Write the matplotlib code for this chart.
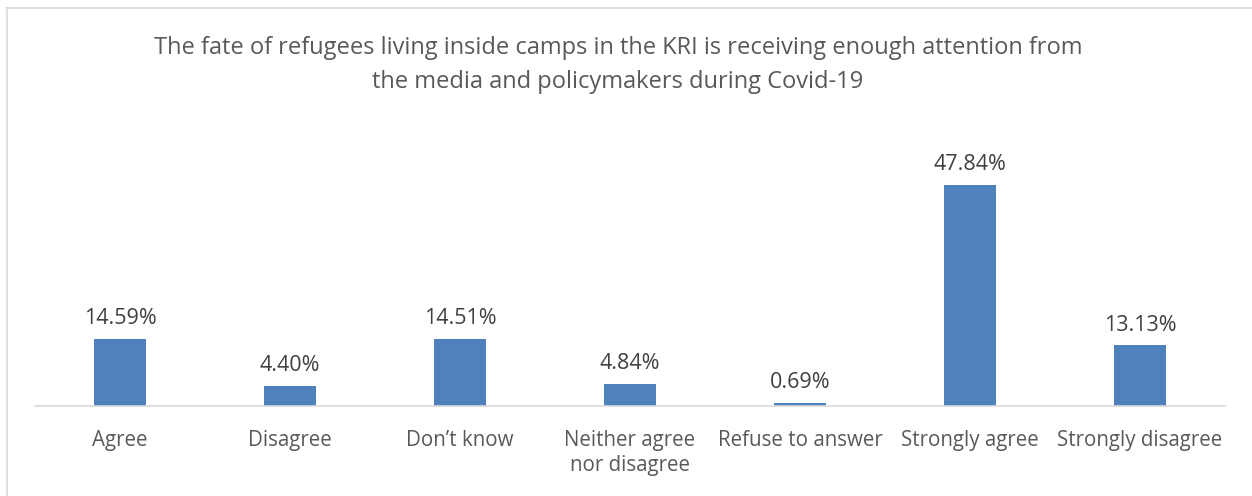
import matplotlib
matplotlib.use("Agg")
import matplotlib.pyplot as plt
from matplotlib.lines import Line2D

categories = ["Agree", "Disagree", "Don\u2019t know", "Neither agree\nnor disagree",
              "Refuse to answer", "Strongly agree", "Strongly disagree"]
values = [14.59, 4.40, 14.51, 4.84, 0.69, 47.84, 13.13]
title = ("The fate of refugees living inside camps in the KRI is receiving enough attention from\n"
         "the media and policymakers during Covid-19")

plt.rcParams['font.family'] = ['Open Sans', 'DejaVu Sans']

W, H = 1252, 496
fig = plt.figure(figsize=(W / 100, H / 100), dpi=100)
ax = fig.add_axes([35 / W, (H - 406) / H, (1225 - 35) / W, (406 - 129) / H])

x = list(range(len(categories)))
bars = ax.bar(x, values, width=0.31, color="#4F81BD")
ax.set_xlim(-0.5, len(categories) - 0.5)
ax.set_ylim(0, 60)
for xi, v in zip(x, values):
    ax.annotate(f"{v:.2f}%", (xi, v), xytext=(0, 7), textcoords="offset points",
                ha="center", va="bottom", fontsize=15.5, color="#404040")

ax.set_xticks(x)
ax.set_xticklabels(categories, fontsize=14.8, color="#595959", linespacing=1.25, va="top")
ax.tick_params(axis="x", length=0, pad=17)
ax.set_yticks([])
for s in ["top", "right", "left"]:
    ax.spines[s].set_visible(False)
ax.spines["bottom"].set_color("#D9D9D9")
ax.spines["bottom"].set_linewidth(1.2)

fig.text(618 / W, 1 - 65 / H, title, ha="center", va="center", fontsize=17,
         color="#595959", linespacing=1.5)

# outer frame (top and left edges visible)
fig.add_artist(Line2D([6 / W, 1.0], [1 - 7.5 / H, 1 - 7.5 / H], transform=fig.transFigure,
                      color="#D9D9D9", lw=1.2))
fig.add_artist(Line2D([6.5 / W, 6.5 / W], [0, 1 - 7.5 / H], transform=fig.transFigure,
                      color="#D9D9D9", lw=1.2))

fig.savefig("out.png", dpi=100, facecolor="white")
